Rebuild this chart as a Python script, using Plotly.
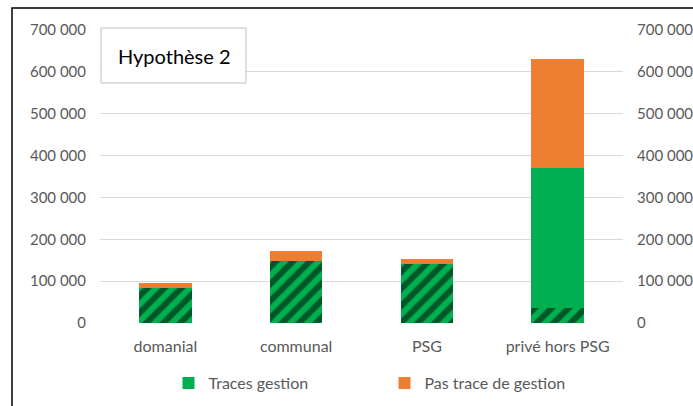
import plotly.graph_objects as go

categories = ["domanial", "communal", "PSG", "privé hors PSG"]
hatched_vals = [84000, 147000, 140000, 36000]
traces_vals = [0, 0, 0, 334000]
pas_trace_vals = [11000, 24000, 14000, 260000]
tick_vals = [0, 100000, 200000, 300000, 400000, 500000, 600000, 700000]

GREEN = "#00B050"
ORANGE = "#ED7D31"
FONT = "Lato"

fig = go.Figure()
fig.add_trace(go.Bar(
    x=categories, y=hatched_vals, name="Traces gestion (hachuré)", showlegend=False,
    marker=dict(color=GREEN, line=dict(width=0),
                pattern=dict(shape="/", fgcolor="black", bgcolor=GREEN, size=12, solidity=0.5)),
))
fig.add_trace(go.Bar(
    x=categories, y=traces_vals, name="Traces gestion",
    marker=dict(color=GREEN, line=dict(width=0)),
))
fig.add_trace(go.Bar(
    x=categories, y=pas_trace_vals, name="Pas trace de gestion",
    marker=dict(color=ORANGE, line=dict(width=0)),
))
# invisible trace so the secondary (right) axis is drawn
fig.add_trace(go.Scatter(
    x=categories, y=hatched_vals, yaxis="y2", mode="lines",
    line=dict(width=0, color="rgba(0,0,0,0)"), showlegend=False, hoverinfo="skip",
))

W, H = 693, 406
L, R, T, B = 100, 70, 30, 83
pw, ph = W - L - R, H - T - B

def px(x):
    return (x - L) / pw

def py(y):
    return (H - B - y) / ph

axis_common = dict(
    range=[0, 700000], tickvals=tick_vals, tickformat=",d",
    tickfont=dict(family=FONT, size=15, color="#595959"),
    ticks="outside", ticklen=10, tickcolor="rgba(0,0,0,0)",
    showline=False, zeroline=False, automargin=False,
)

fig.update_layout(
    width=W, height=H,
    margin=dict(l=L, r=R, t=T, b=B, autoexpand=False),
    barmode="stack", bargap=0.6,
    separators=", ",
    plot_bgcolor="white", paper_bgcolor="white",
    font=dict(family=FONT, size=15, color="#595959"),
    xaxis=dict(
        tickfont=dict(family=FONT, size=16, color="#595959"),
        ticks="outside", ticklen=9, tickcolor="rgba(0,0,0,0)",
        showline=False, showgrid=False, automargin=False,
    ),
    yaxis=dict(showgrid=True, gridcolor="#D9D9D9", gridwidth=1, **axis_common),
    yaxis2=dict(overlaying="y", side="right", anchor="x", showgrid=False, **axis_common),
    legend=dict(
        orientation="h", x=0.5 + 23 / pw, xanchor="center", y=py(383), yanchor="middle",
        font=dict(family=FONT, size=16, color="#595959"),
        entrywidth=171, traceorder="normal",
    ),
    shapes=[
        dict(type="rect", xref="paper", yref="paper",
             x0=px(12), x1=px(800), y0=py(500), y1=py(8),
             line=dict(color="black", width=1.5), fillcolor="rgba(0,0,0,0)", layer="above"),
        dict(type="rect", xref="paper", yref="paper",
             x0=px(101), x1=px(246), y0=py(83), y1=py(28),
             line=dict(color="#BFBFBF", width=1), fillcolor="white", layer="above"),
    ],
    annotations=[
        dict(text="Hypothèse 2", xref="paper", yref="paper", x=px(116), y=py(56),
             xanchor="left", yanchor="middle", showarrow=False,
             font=dict(family=FONT, size=20, color="black")),
    ],
)

fig.write_html("out.html")
